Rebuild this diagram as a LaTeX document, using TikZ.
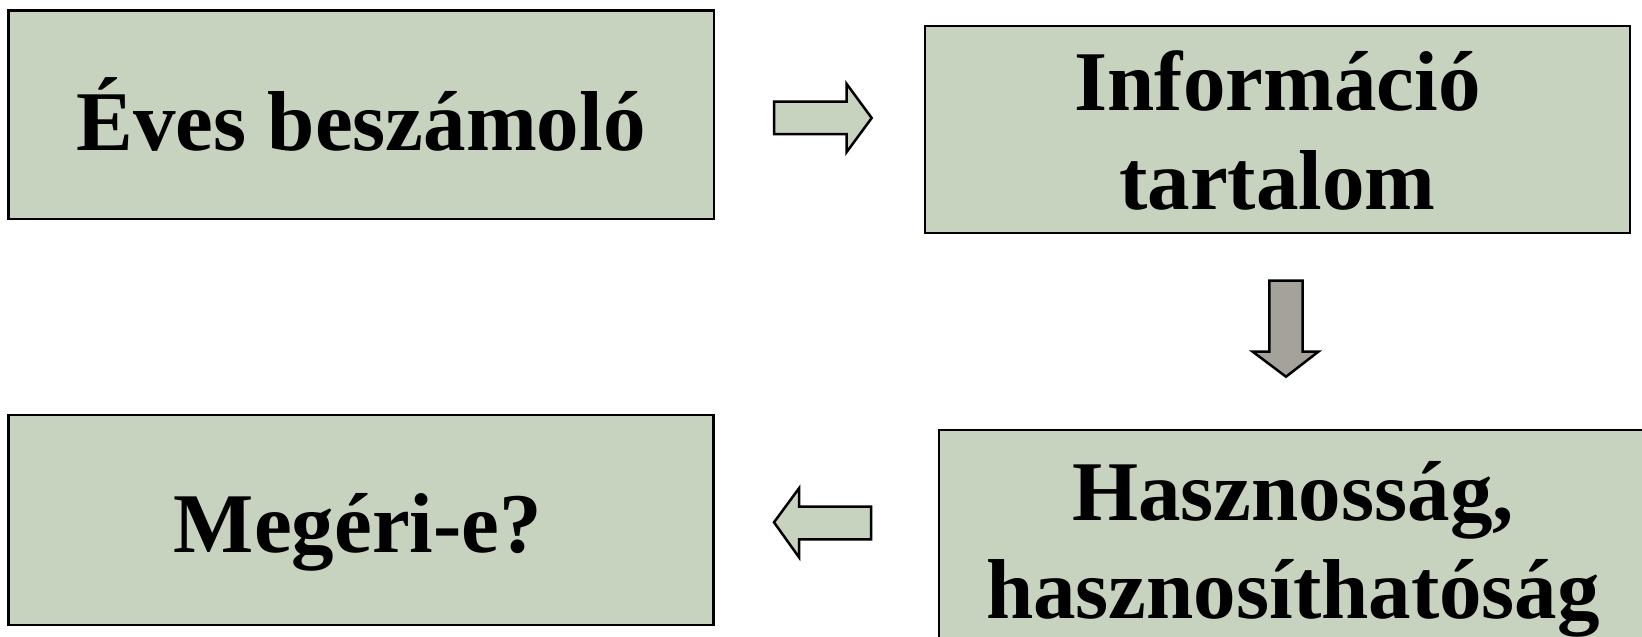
\documentclass[tikz,border=0pt]{standalone}
\usepackage{fontspec}
\setmainfont{Liberation Serif}
\definecolor{boxfill}{RGB}{200,211,191}
\definecolor{grayfill}{RGB}{165,162,156}
\begin{document}
\begin{tikzpicture}[x=1pt,y=-1pt,
  card/.style={draw=black,line width=2.5pt,fill=boxfill,rectangle,inner sep=0pt},
  lbl/.style={anchor=base,inner sep=0pt,font=\fontsize{85}{100}\selectfont\bfseries},
  blockarrow/.style={draw=black,line width=2.5pt,line join=miter,fill=boxfill}]
\useasboundingbox (0,0) rectangle (1642,637);
\clip (0,0) rectangle (1642,637);
% boxes
\node[card,minimum width=705.5pt,minimum height=208.5pt] (eves) at (361.25,114.75) {};
\node[card,minimum width=705pt,minimum height=207pt] (info) at (1277.4,129.5) {};
\node[card,minimum width=706pt,minimum height=210pt] (hasz) at (1292,535) {};
\node[card,minimum width=705pt,minimum height=210pt] (meg) at (361,520) {};
% texts
\node[lbl] (t1) at (361,150) {Éves beszámoló};
\node[lbl] (t2) at (1277.5,110) {Információ};
\node[lbl] (t3) at (1277.5,209.5) {tartalom};
\node[lbl] (t4) at (1293,520) {Hasznosság,};
\node[lbl] (t5) at (1293,618) {hasznosíthatóság};
\node[lbl] (t6) at (358,552) {Megéri-e?};
% block arrows
\draw[blockarrow] (774,101.7) -- (846.7,101.7) -- (846.7,84) -- (871.7,118) -- (846.7,152) -- (846.7,134) -- (774,134) -- cycle;
\draw[blockarrow,fill=grayfill] (1269.3,280.7) -- (1302.7,280.7) -- (1302.7,351.7) -- (1318.3,351.7) -- (1286,376.7) -- (1252.7,351.7) -- (1269.3,351.7) -- cycle;
\draw[blockarrow] (871,506.7) -- (799,506.7) -- (799,488.3) -- (774,522.3) -- (799,557.3) -- (799,539.3) -- (871,539.3) -- cycle;
\end{tikzpicture}
\end{document}
